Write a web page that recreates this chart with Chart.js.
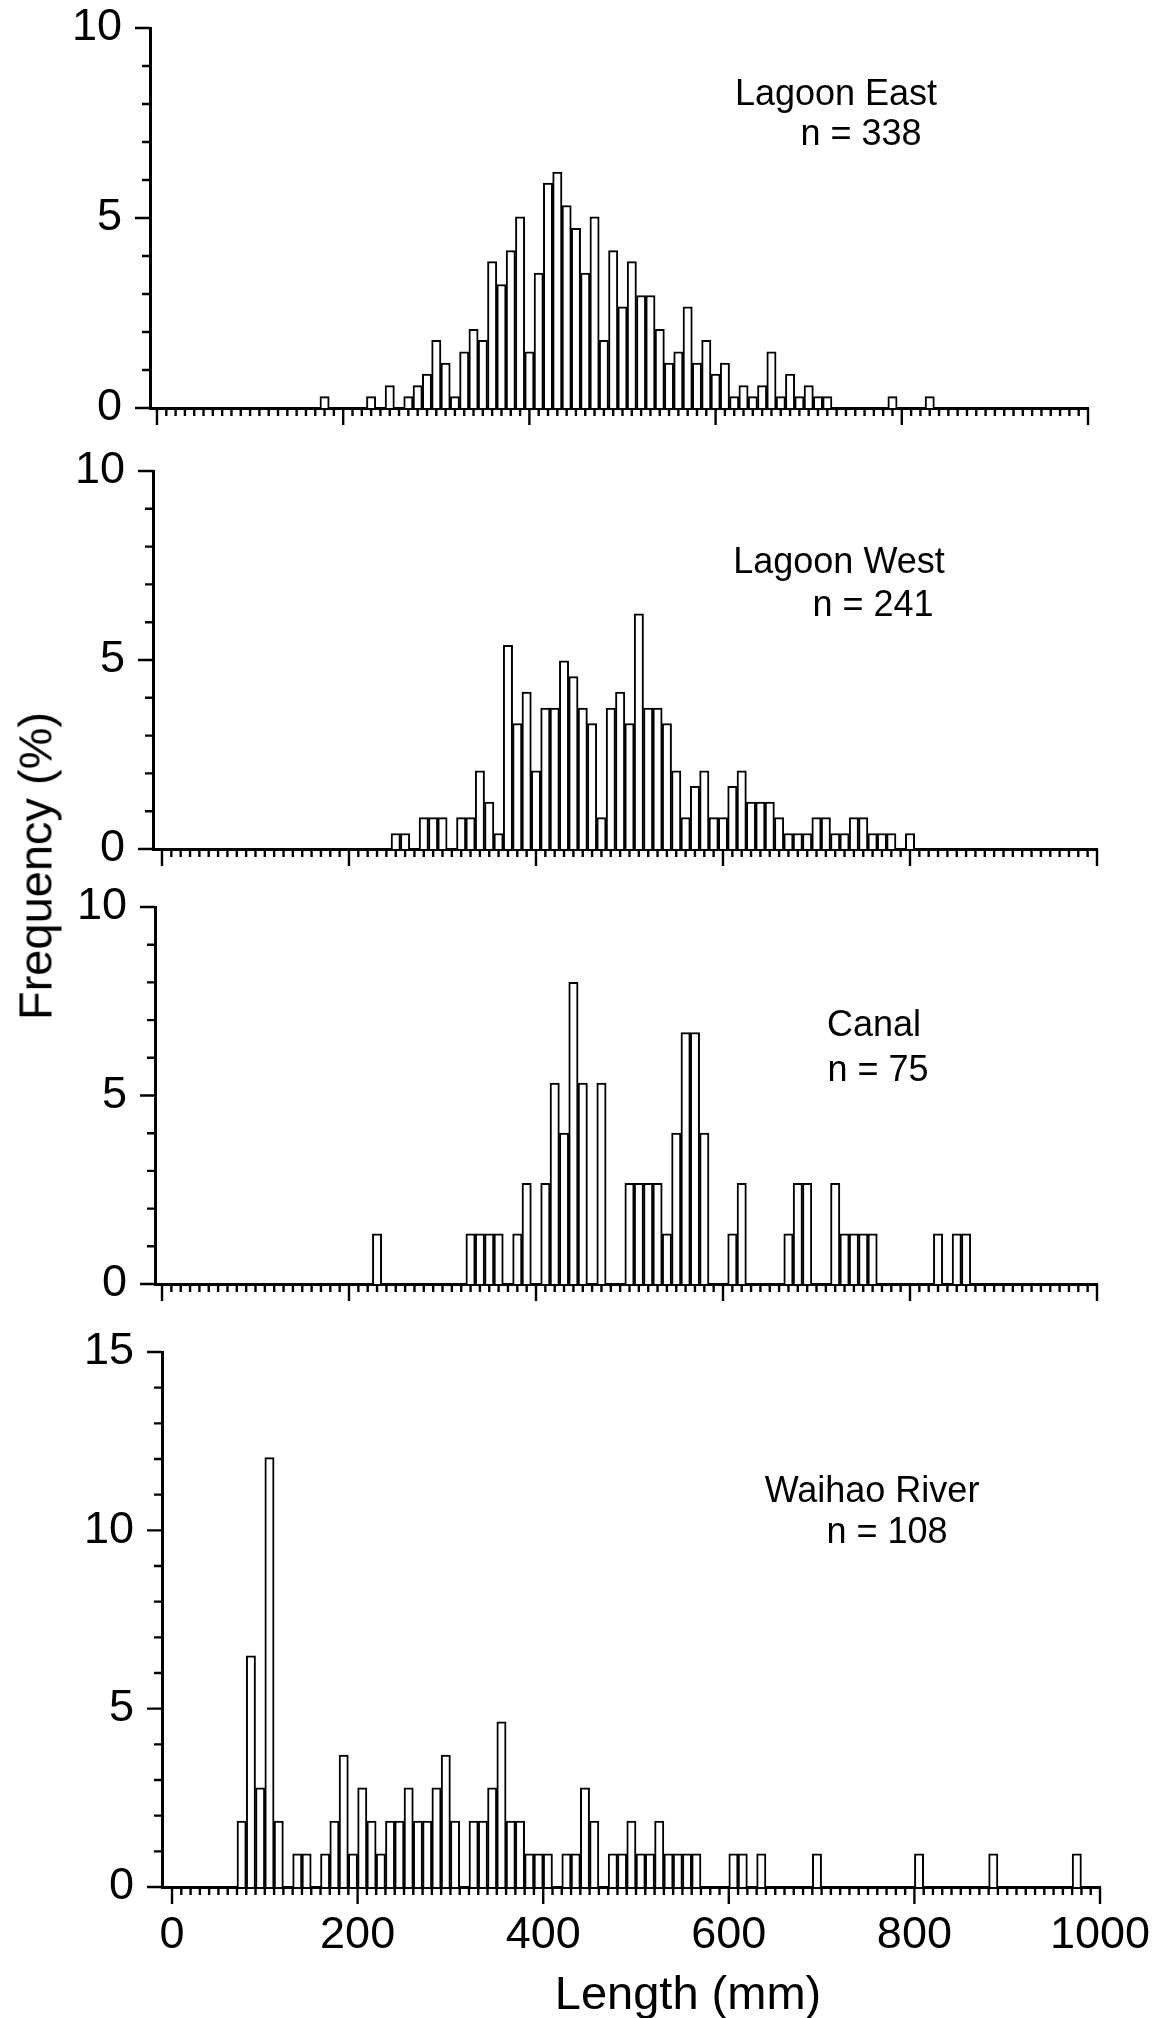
<!DOCTYPE html>
<html>
<head>
<meta charset="utf-8">
<script src="https://cdn.jsdelivr.net/npm/chart.js@4.4.1/dist/chart.umd.min.js"></script>
<style>
    html, body { margin: 0; padding: 0; background: #fff; }
    #page { position: relative; width: 1152px; height: 2018px; overflow: hidden; background: #fff;
            font-family: 'Liberation Sans', Arial, Helvetica, sans-serif; color: #000; }
    #page canvas { position: absolute; left: 0; }
    .lbl { position: absolute; transform: translate(-50%, -50%); white-space: nowrap; line-height: 1; }
    .site { font-size: 36px; }
    .axis-title { font-size: 47px; }
</style>
</head>
<body>
<div id="page">
    <canvas id="eastChart" width="1152" height="450" style="top:0px"></canvas>
    <canvas id="westChart" width="1152" height="450" style="top:430px"></canvas>
    <canvas id="canalChart" width="1152" height="440" style="top:870px"></canvas>
    <canvas id="riverChart" width="1152" height="700" style="top:1310px"></canvas>

    <div class="lbl site" style="left:836px; top:93px">Lagoon East</div>
    <div class="lbl site" style="left:861px; top:133px">n = 338</div>
    <div class="lbl site" style="left:839px; top:561px">Lagoon West</div>
    <div class="lbl site" style="left:873px; top:604px">n = 241</div>
    <div class="lbl site" style="left:874px; top:1024px">Canal</div>
    <div class="lbl site" style="left:878px; top:1069px">n = 75</div>
    <div class="lbl site" style="left:872px; top:1490px">Waihao River</div>
    <div class="lbl site" style="left:887px; top:1531px">n = 108</div>

    <div class="lbl axis-title" style="left:35px; top:866px; transform: translate(-50%, -50%) rotate(-90deg)">Frequency (%)</div>
    <div class="lbl axis-title" style="left:688px; top:1992px">Length (mm)</div>
</div>
<script>
// Lagoon East, n = 338 (bin centre mm / % of fish)
const eastLength = [180, 230, 250, 270, 280, 290, 300, 310, 320, 330,
                    340, 350, 360, 370, 380, 390, 400, 410, 420, 430,
                    440, 450, 460, 470, 480, 490, 500, 510, 520, 530,
                    540, 550, 560, 570, 580, 590, 600, 610, 620, 630,
                    640, 650, 660, 670, 680, 690, 700, 710, 720, 790, 830];
const eastFreq = [0.3, 0.3, 0.59, 0.3, 0.59, 0.89, 1.78, 1.18, 0.3, 1.48,
                  2.07, 1.78, 3.85, 3.25, 4.14, 5.03, 1.48, 3.55, 5.92, 6.21,
                  5.33, 4.73, 3.55, 5.03, 1.78, 4.14, 2.66, 3.85, 2.96, 2.96,
                  2.07, 1.18, 1.48, 2.66, 1.18, 1.78, 0.89, 1.18, 0.3, 0.59,
                  0.3, 0.59, 1.48, 0.3, 0.89, 0.3, 0.59, 0.3, 0.3, 0.3, 0.3];

// Lagoon West, n = 241
const westLength = [250, 260, 280, 290, 300, 320, 330, 340, 350, 360,
                    370, 380, 390, 400, 410, 420, 430, 440, 450, 460,
                    470, 480, 490, 500, 510, 520, 530, 540, 550, 560,
                    570, 580, 590, 600, 610, 620, 630, 640, 650, 660,
                    670, 680, 690, 700, 710, 720, 730, 740, 750, 760, 770, 780, 800];
const westFreq = [0.41, 0.41, 0.83, 0.83, 0.83, 0.83, 0.83, 2.07, 1.24, 0.41,
                  5.39, 3.32, 4.15, 2.07, 3.73, 3.73, 4.98, 4.56, 3.73, 3.32,
                  0.83, 3.73, 4.15, 3.32, 6.22, 3.73, 3.73, 3.32, 2.07, 0.83,
                  1.66, 2.07, 0.83, 0.83, 1.66, 2.07, 1.24, 1.24, 1.24, 0.83,
                  0.41, 0.41, 0.41, 0.83, 0.83, 0.41, 0.41, 0.83, 0.83, 0.41, 0.41, 0.41, 0.41];

// Canal, n = 75
const canalLength = [230, 330, 340, 350, 360, 380, 390, 410, 420, 430,
                     440, 450, 470, 500, 510, 520, 530, 540, 550, 560,
                     570, 580, 610, 620, 670, 680, 690, 720, 730, 740,
                     750, 760, 830, 850, 860];
const canalFreq = [1.33, 1.33, 1.33, 1.33, 1.33, 1.33, 2.67, 2.67, 5.33, 4.0,
                   8.0, 5.33, 5.33, 2.67, 2.67, 2.67, 2.67, 1.33, 4.0, 6.67,
                   6.67, 4.0, 1.33, 2.67, 1.33, 2.67, 2.67, 2.67, 1.33, 1.33,
                   1.33, 1.33, 1.33, 1.33, 1.33];

// Waihao River, n = 108
const riverLength = [75, 85, 95, 105, 115, 135, 145, 165, 175, 185,
                     195, 205, 215, 225, 235, 245, 255, 265, 275, 285,
                     295, 305, 325, 335, 345, 355, 365, 375, 385, 395,
                     405, 425, 435, 445, 455, 475, 485, 495, 505, 515,
                     525, 535, 545, 555, 565, 605, 615, 635, 695, 805, 885, 975];
const riverFreq = [1.85, 6.48, 2.78, 12.04, 1.85, 0.93, 0.93, 0.93, 1.85, 3.7,
                   0.93, 2.78, 1.85, 0.93, 1.85, 1.85, 2.78, 1.85, 1.85, 2.78,
                   3.7, 1.85, 1.85, 1.85, 2.78, 4.63, 1.85, 1.85, 0.93, 0.93,
                   0.93, 0.93, 0.93, 2.78, 1.85, 0.93, 0.93, 1.85, 0.93, 0.93,
                   1.85, 0.93, 0.93, 0.93, 0.93, 0.93, 0.93, 0.93, 0.93, 0.93, 0.93, 0.93];

const xTickLabels = [0, 200, 400, 600, 800, 1000];
const yTicksTen = [0, 5, 10];
const yTicksFifteen = [0, 5, 10, 15];

const fontFamily = "'Liberation Sans', Arial, Helvetica, sans-serif";

// short ticks every 10 mm / 1 %, long ones at the labelled values
const tickMarks = {
    id: 'tickMarks',
    afterDraw(chart) {
        const { ctx, chartArea } = chart;
        const x = chart.scales.x;
        const y = chart.scales.y;
        ctx.save();
        ctx.strokeStyle = '#000';
        ctx.lineWidth = 2.4;
        ctx.beginPath();
        for (let v = 0; v <= 1000; v += 10) {
            const px = x.getPixelForValue(v);
            ctx.moveTo(px, chartArea.bottom);
            ctx.lineTo(px, chartArea.bottom + (v % 200 === 0 ? 17 : 8));
        }
        for (let v = 0; v <= y.max; v += 1) {
            const py = y.getPixelForValue(v);
            ctx.moveTo(chartArea.left, py);
            ctx.lineTo(chartArea.left - (v % 5 === 0 ? 15 : 8), py);
        }
        ctx.stroke();
        ctx.restore();
    }
};

function drawPanel(id, lengths, freqs, yTicks, box) {
    const canvas = document.getElementById(id);
    const height = canvas.height;
    return new Chart(canvas, {
        type: 'bar',
        data: {
            datasets: [{
                data: lengths.map((len, i) => ({ x: len, y: freqs[i] })),
                backgroundColor: '#fff',
                borderColor: '#000',
                borderWidth: 2,
                barPercentage: 1,
                categoryPercentage: 1
            }]
        },
        options: {
            responsive: false,
            animation: false,
            devicePixelRatio: 1,
            layout: {
                padding: { top: box.top - box.canvasTop, right: 1152 - box.right, left: 0, bottom: 0 }
            },
            plugins: {
                legend: { display: false },
                tooltip: { enabled: false }
            },
            scales: {
                x: {
                    type: 'linear',
                    min: box.xMin,
                    max: 1000,
                    offset: false,
                    z: 1,
                    grid: { display: false, drawTicks: false, offset: false },
                    border: { display: true, color: '#000', width: 3 },
                    afterBuildTicks: s => { s.ticks = xTickLabels.map(v => ({ value: v })); },
                    afterFit: s => {
                        s.height = height - (box.bottom - box.canvasTop);
                        s.paddingLeft = 0;
                        s.paddingRight = 0;
                    },
                    ticks: {
                        display: box.labels,
                        autoSkip: false,
                        maxRotation: 0,
                        padding: 22,
                        color: '#000',
                        font: { family: fontFamily, size: 45 },
                        callback: v => String(v)
                    }
                },
                y: {
                    min: 0,
                    max: yTicks[yTicks.length - 1],
                    z: 1,
                    grid: { display: false, drawTicks: false },
                    border: { display: true, color: '#000', width: 3 },
                    afterBuildTicks: s => { s.ticks = yTicks.map(v => ({ value: v })); },
                    afterFit: s => {
                        s.width = box.left;
                        s.paddingTop = 0;
                        s.paddingBottom = 0;
                    },
                    ticks: {
                        padding: 28,
                        color: '#000',
                        font: { family: fontFamily, size: 45 }
                    }
                }
            }
        },
        plugins: [tickMarks]
    });
}

drawPanel('eastChart', eastLength, eastFreq, yTicksTen,
    { canvasTop: 0, top: 28, bottom: 408, left: 150, right: 1088, xMin: -7.5, labels: false });
drawPanel('westChart', westLength, westFreq, yTicksTen,
    { canvasTop: 430, top: 471, bottom: 849, left: 153, right: 1097, xMin: -9.6, labels: false });
drawPanel('canalChart', canalLength, canalFreq, yTicksTen,
    { canvasTop: 870, top: 907, bottom: 1284, left: 155, right: 1097, xMin: -7.5, labels: false });
drawPanel('riverChart', riverLength, riverFreq, yTicksFifteen,
    { canvasTop: 1310, top: 1352, bottom: 1887, left: 162, right: 1100, xMin: -10.8, labels: true });
</script>
</body>
</html>
